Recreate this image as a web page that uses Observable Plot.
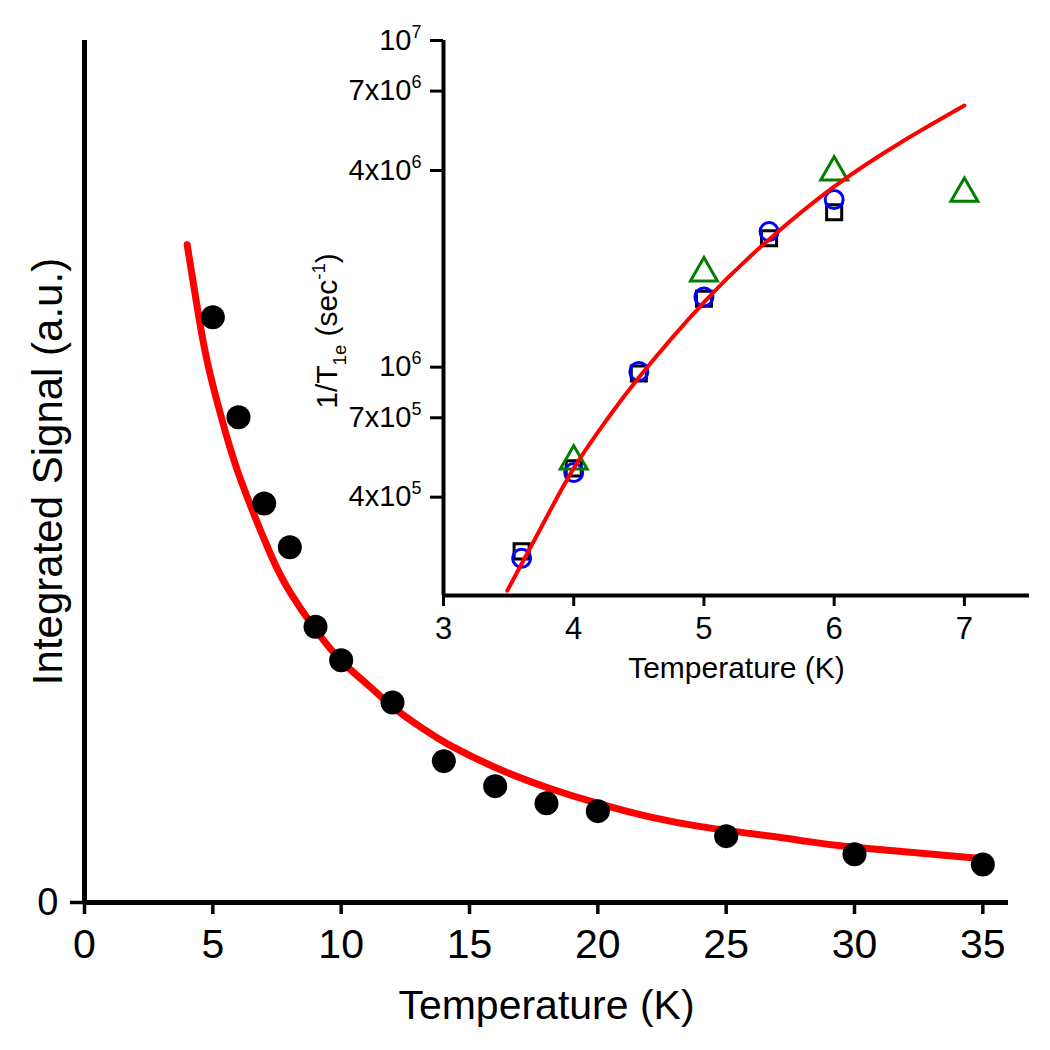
<!DOCTYPE html>
<html><head><meta charset="utf-8">
<script src="https://cdn.jsdelivr.net/npm/d3@7"></script>
<script src="https://cdn.jsdelivr.net/npm/@observablehq/plot@0.6"></script>
<style>
html,body{margin:0;padding:0;background:#fff;}
#wrap{position:relative;width:1050px;height:1050px;overflow:hidden;}
#wrap svg{position:absolute;}
</style></head><body><div id="wrap"></div>
<script>
// ---- Main panel: integrated signal vs temperature ----
const mainTemps  = [5, 6, 7, 8, 9, 10, 12, 14, 16, 18, 20, 25, 30, 35];
const mainSignal = [67.9, 56.3, 46.3, 41.2, 32.0, 28.1, 23.2, 16.4, 13.5, 11.5, 10.6, 7.7, 5.6, 4.4];
const fitTemps  = [4.0, 4.33, 4.78, 5.49, 6.14, 7.25, 8.03, 8.94, 9.98, 11.02, 12.05, 13.22, 14.26, 16.21, 18.16, 20.11, 22.06, 24.01, 25.95, 27.9, 29.97, 34.92];
const fitSignal = [76.3, 70.2, 62.8, 54.6, 48.6, 40.4, 35.9, 31.9, 28.1, 25.3, 22.6, 20.1, 18.2, 15.4, 13.2, 11.4, 9.9, 8.8, 8.0, 7.2, 6.4, 5.1];
const mainXTicks = [0, 5, 10, 15, 20, 25, 30, 35];

// ---- Inset: 1/T1e vs temperature (log scale) ----
const insetTemps     = [3.6, 4, 4.5, 5, 5.5, 6];
const squareRates    = [2.73e5, 4.90e5, 9.56e5, 1.62e6, 2.48e6, 2.98e6];
const circleRates    = [2.60e5, 4.76e5, 9.70e5, 1.64e6, 2.60e6, 3.26e6];
const triangleTemps  = [4, 5, 6, 7];
const triangleRates  = [5.15e5, 1.94e6, 3.95e6, 3.40e6];
const insetFitTemps  = [3.49, 3.75, 4, 4.25, 4.5, 5, 5.5, 6, 6.5, 7];
const insetFitRates  = [2.07e5, 3.23e5, 4.90e5, 6.87e5, 9.30e5, 1.58e6, 2.46e6, 3.57e6, 4.84e6, 6.32e6];
const insetXTicks    = [3, 4, 5, 6, 7];
const insetYTicks    = [4e5, 7e5, 1e6, 4e6, 7e6, 1e7];
const insetYLabels   = ["4x10^{5}", "7x10^{5}", "10^{6}", "4x10^{6}", "7x10^{6}", "10^{7}"];

const FONT = "'Liberation Sans', Arial, sans-serif";
const zip = (xs, ys) => xs.map((x, i) => ({T: x, v: ys[i]}));

const main = Plot.plot({
  width: 1050, height: 1050,
  marginLeft: 84, marginRight: 42, marginTop: 40, marginBottom: 148,
  x: {domain: [0, 36]},
  y: {domain: [0, 100]},
  style: {fontFamily: FONT, color: "black", background: "transparent", overflow: "visible"},
  marks: [
    Plot.line(zip(fitTemps, fitSignal), {x: "T", y: "v", stroke: "#ff0000", strokeWidth: 7, curve: "natural", strokeLinecap: "round"}),
    Plot.dot(zip(mainTemps, mainSignal), {x: "T", y: "v", r: 12, fill: "black"}),
    Plot.ruleY([0], {stroke: "black", strokeWidth: 5}),
    Plot.ruleX([0], {stroke: "black", strokeWidth: 5}),
    Plot.axisX({ticks: mainXTicks, tickFormat: d => String(d), tickSize: 12, tickPadding: 14, strokeWidth: 3.5, fontSize: 41, label: null}),
    Plot.axisY({ticks: [0], tickFormat: () => "0", tickSize: 14, tickPadding: 12, strokeWidth: 3.5, fontSize: 38, label: null}),
    Plot.text(["Temperature (K)"], {text: d => d, frameAnchor: "bottom", dy: 103, fontSize: 41, lineAnchor: "middle", textAnchor: "middle"}),
    Plot.text(["Integrated Signal (a.u.)"], {text: d => d, frameAnchor: "left", dx: -36, rotate: -90, fontSize: 42, lineAnchor: "middle", textAnchor: "middle"})
  ]
});
main.style.left = "0px"; main.style.top = "0px";

const inset = Plot.plot({
  width: 770, height: 700,
  marginLeft: 163, marginRight: 21, marginTop: 40, marginBottom: 105,
  x: {domain: [3, 7.5]},
  y: {type: "log", domain: [2e5, 1e7]},
  style: {fontFamily: FONT, color: "black", background: "transparent", overflow: "visible"},
  marks: [
    Plot.ruleX([3], {stroke: "black", strokeWidth: 4}),
    Plot.ruleY([2e5], {stroke: "black", strokeWidth: 4}),
    Plot.axisX({ticks: insetXTicks, tickFormat: d => String(d), tickSize: 11, tickPadding: 10, strokeWidth: 3, fontSize: 31, label: null}),
    Plot.axisY({ticks: insetYTicks, tickFormat: () => "", tickSize: 13, tickPadding: 9, strokeWidth: 3, label: null}),
    Plot.text(insetYTicks, {y: d => d, text: (d, i) => insetYLabels[i], frameAnchor: "left", dx: -22, textAnchor: "end", lineAnchor: "middle", fontSize: 29}),
    Plot.dot(zip(insetTemps, squareRates), {x: "T", y: "v", symbol: "square", r: 8.5, stroke: "black", strokeWidth: 3, fill: "none"}),
    Plot.dot(zip(insetTemps, circleRates), {x: "T", y: "v", symbol: "circle", r: 9, stroke: "#0000ff", strokeWidth: 3, fill: "none"}),
    Plot.dot(zip(triangleTemps, triangleRates), {x: "T", y: "v", symbol: "triangle", r: 10, stroke: "#008000", strokeWidth: 3, fill: "none"}),
    Plot.line(zip(insetFitTemps, insetFitRates), {x: "T", y: "v", stroke: "#ff0000", strokeWidth: 4, curve: "natural"}),
    Plot.text(["Temperature (K)"], {text: d => d, frameAnchor: "bottom", dy: 73, fontSize: 30, lineAnchor: "middle", textAnchor: "middle"}),
    Plot.text(["1/T_{1e} (sec^{-1})"], {text: d => d, frameAnchor: "left", dx: -116, dy: 13, rotate: -90, fontSize: 30, lineAnchor: "middle", textAnchor: "middle"})
  ]
});
inset.style.left = "280px"; inset.style.top = "0px";

const wrap = document.getElementById("wrap");
wrap.appendChild(main);
wrap.appendChild(inset);

// Render ^{...} and _{...} as real superscripts / subscripts
function richify(svg) {
  const ns = "http://www.w3.org/2000/svg";
  svg.querySelectorAll("text").forEach(t => {
    const s = t.textContent;
    if (!/[\^_]\{/.test(s)) return;
    const fs = parseFloat(getComputedStyle(t).fontSize);
    while (t.firstChild) t.removeChild(t.firstChild);
    let shift = 0;
    const add = (str, kind) => {
      if (!str) return;
      const ts = document.createElementNS(ns, "tspan");
      const target = kind === "^" ? -0.42 * fs : kind === "_" ? 0.28 * fs : 0;
      const dy = target - shift; shift = target;
      if (dy) ts.setAttribute("dy", dy);
      if (kind) ts.setAttribute("font-size", 0.62 * fs);
      ts.textContent = str;
      t.appendChild(ts);
    };
    const re = /([\^_])\{([^}]*)\}/g;
    let last = 0, m;
    while ((m = re.exec(s))) {
      add(s.slice(last, m.index), null);
      add(m[2], m[1]);
      last = re.lastIndex;
    }
    add(s.slice(last), null);
  });
}
richify(main);
richify(inset);
</script></body></html>
